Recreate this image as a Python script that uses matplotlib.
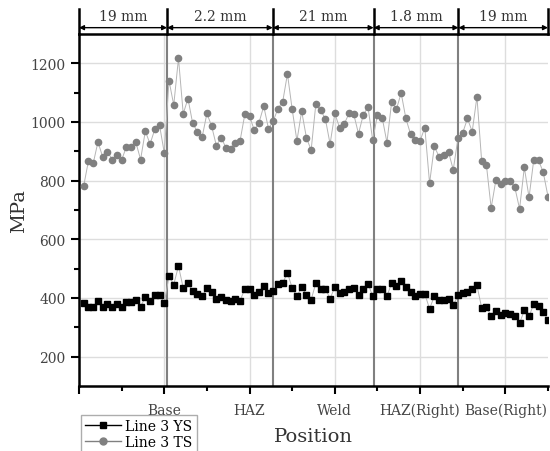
import numpy as np
import matplotlib
matplotlib.use("Agg")
import matplotlib.pyplot as plt
from matplotlib.lines import Line2D

plt.rcParams['font.family'] = ['DejaVu Serif']

# tensile / yield strength along the specimen (MPa)
ts = [783, 868, 859, 932, 881, 899, 872, 887, 870, 916,
      916, 931, 872, 969, 925, 975, 989, 895, 1141, 1058,
      1217, 1028, 1080, 995, 967, 949, 1029, 986, 919, 947,
      913, 907, 930, 936, 1026, 1020, 972, 998, 1054, 977,
      1003, 1046, 1069, 1164, 1043, 936, 1037, 947, 904, 1062,
      1040, 1011, 925, 1029, 981, 994, 1029, 1026, 960, 1024,
      1051, 938, 1024, 1015, 930, 1069, 1043, 1099, 1012, 958,
      940, 936, 981, 791, 917, 882, 888, 898, 837, 945,
      963, 1012, 967, 1086, 866, 853, 707, 802, 788, 800,
      799, 777, 704, 845, 743, 872, 870, 828, 746]
ys = [383, 371, 369, 391, 371, 379, 371, 379, 371, 386,
      386, 393, 371, 402, 389, 409, 411, 383, 474, 446,
      509, 434, 451, 423, 414, 406, 434, 421, 398, 402,
      394, 391, 397, 391, 431, 429, 411, 421, 442, 417,
      423, 448, 451, 486, 434, 406, 437, 411, 394, 451,
      431, 432, 398, 437, 417, 419, 431, 434, 409, 432,
      449, 406, 431, 431, 406, 451, 440, 459, 437, 419,
      406, 414, 414, 363, 406, 392, 392, 398, 375, 409,
      417, 421, 429, 443, 366, 369, 339, 357, 341, 349,
      346, 339, 314, 358, 337, 381, 374, 352, 326]

# zone boundaries (in sample index) and widths
bounds = [0, 18.6, 40.9, 62.2, 80.1, 99]
widths = ['19 mm', '2.2 mm', '21 mm', '1.8 mm', '19 mm']
zone_ticks = [18, 36, 54, 72, 90]
zone_labels = ['Base', 'HAZ', 'Weld', 'HAZ(Right)', 'Base(Right)']

x = np.arange(1, len(ts) + 1)

fig = plt.figure(figsize=(5.5, 4.52), dpi=100)
ax = fig.add_axes([79/550, 1 - 387/452, 469/550, 352/452])

for b in bounds[1:-1]:
    ax.axvline(b, color='#808080', lw=1.5, zorder=1)

ax.plot(x, ys, color='#b5b5b5', lw=0.7, marker='s', ms=4.2,
        mfc='black', mec='black', zorder=3)
ax.plot(x, ts, color='#b5b5b5', lw=0.7, marker='o', ms=4.5,
        mfc='#808080', mec='#808080', zorder=3)

ax.set_xlim(0, 99)
ax.set_ylim(100, 1300)
ax.set_yticks([200, 400, 600, 800, 1000, 1200])
ax.set_yticks([300, 500, 700, 900, 1100], minor=True)
ax.set_xticks([0] + zone_ticks)
ax.set_xticklabels([''] + zone_labels)
ax.set_xticks([9, 27, 45, 63, 81, 99], minor=True)
ax.grid(True, which='major', color='#dddddd', lw=1, zorder=0)
ax.set_axisbelow(True)

ax.tick_params(which='major', length=6, width=1.5, labelsize=10, labelcolor='#444444')
ax.tick_params(which='minor', length=3.5, width=1.5)
ax.tick_params(axis='x', pad=6)
for s in ['left', 'bottom', 'top']:
    ax.spines[s].set_linewidth(1.8)
ax.spines['right'].set_visible(False)

ax.set_xlabel('Position', fontsize=14, color='#333333', labelpad=7)
ax.set_ylabel('MPa', fontsize=14, color='#333333', labelpad=2)

# widths of each zone above the plot
trans = ax.get_xaxis_transform()
for b in bounds:
    ax.plot([b, b], [1.0, 1.07], color='black', lw=1.8, transform=trans, clip_on=False)
for i, w in enumerate(widths):
    x0, x1 = bounds[i], bounds[i + 1]
    ax.annotate('', xy=(x1, 1.018), xytext=(x0, 1.018), xycoords=trans,
                arrowprops=dict(arrowstyle='<|-|>', color='black', lw=1,
                                mutation_scale=7, shrinkA=0, shrinkB=0))
    ax.text((x0 + x1) / 2, 1.05, w, transform=trans, ha='center', va='center',
            fontsize=10, color='#333333')

handles = [Line2D([], [], color='black', lw=1, marker='s', ms=5, mfc='black'),
           Line2D([], [], color='#808080', lw=1, marker='o', ms=5, mfc='#808080')]
fig.legend(handles, ['Line 3 YS', 'Line 3 TS'], loc='upper left',
           bbox_to_anchor=(81/550, 1 - 416/452), fontsize=10, frameon=True,
           fancybox=False, edgecolor='#999999', handlelength=2.6,
           borderpad=0.3, labelspacing=0.1, handletextpad=0.3,
           borderaxespad=0)

fig.savefig('out.png', dpi=100)
